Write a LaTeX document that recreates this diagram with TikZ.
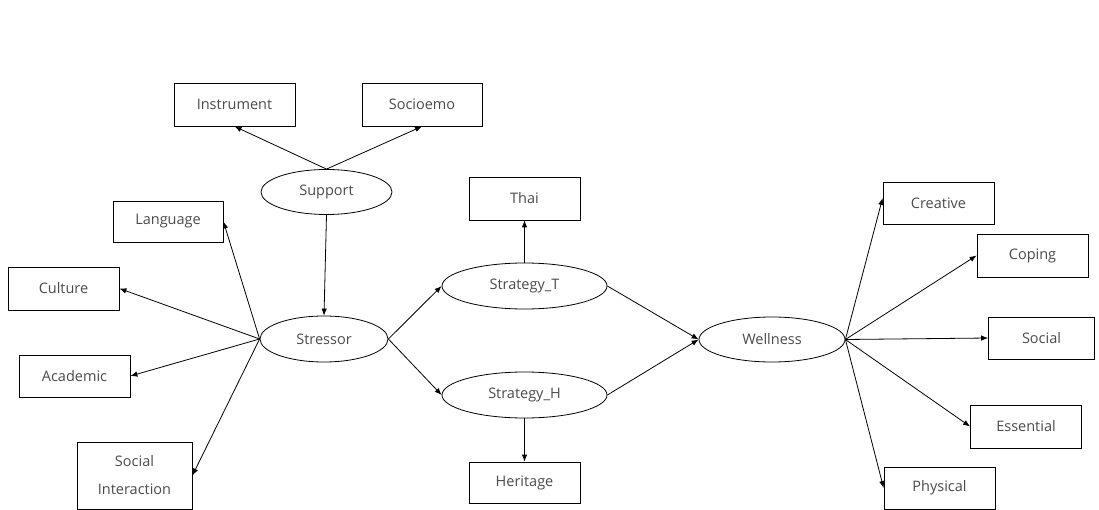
\documentclass[tikz,border=0pt]{standalone}
\usepackage{fontspec}
\setmainfont{Open Sans}
\usetikzlibrary{arrows.meta,shapes.geometric}
\definecolor{labelgray}{HTML}{4A4A4A}
\begin{document}
\begin{tikzpicture}[x=1pt,y=-1pt,
  font=\fontsize{14.5}{19}\selectfont,
  every node/.style={text=labelgray},
  obs/.style={draw=black, line width=0.8pt, rectangle, minimum width=111pt, minimum height=42pt, inner sep=0pt, align=center},
  lat/.style={draw=black, line width=0.8pt, ellipse, inner sep=0pt},
  link/.style={line width=0.8pt, -{Latex[length=7pt,width=5.5pt]}}
]
\useasboundingbox (0,0) rectangle (1099,510);

% latent constructs
\node[lat, minimum width=131pt, minimum height=45pt] (support) at (326.5,192) {Support};
\node[lat, minimum width=128pt, minimum height=46pt] (stressor) at (324,339) {Stressor};
\node[lat, minimum width=165pt, minimum height=46pt] (stratT) at (524.5,286) {Strategy\_T};
\node[lat, minimum width=165pt, minimum height=46pt] (stratH) at (524.5,395) {Strategy\_H};
\node[lat, minimum width=146pt, minimum height=45pt] (wellness) at (772,339.5) {Wellness};

% indicators of Support
\node[obs, minimum width=121pt, minimum height=43pt] (instrument) at (234.5,104.5) {Instrument};
\node[obs, minimum width=120pt, minimum height=43pt] (socioemo) at (422,104.5) {Socioemo};

% indicators of Stressor
\node[obs, minimum width=110pt, minimum height=41pt] (language) at (168,221.5) {Language};
\node[obs, minimum height=43pt] (culture) at (63.5,288.5) {Culture};
\node[obs] (academic) at (74.5,376) {Academic};
\node[obs, minimum width=115pt, minimum height=67pt] (socialint) at (134.5,475.5) {Social\\[9pt]Interaction};

% indicators of the strategies
\node[obs, minimum height=43pt] (thai) at (524.5,198.5) {Thai};
\node[obs, minimum height=41pt] (heritage) at (524.5,482.5) {Heritage};

% indicators of Wellness
\node[obs] (creative) at (938.5,203) {Creative};
\node[obs, minimum height=43pt] (coping) at (1032.5,255.5) {Coping};
\node[obs, minimum width=106pt] (social) at (1041.5,338) {Social};
\node[obs, minimum height=43pt] (essential) at (1026,426.5) {Essential};
\node[obs] (physical) at (939.5,488) {Physical};

% paths
\draw[link] (support.north) -- (instrument.south);
\draw[link] (support.north) -- (socioemo.south);
\draw[link] (support.south) -- (stressor.north);

\draw[link] (stressor.west) -- (language.east);
\draw[link] (stressor.west) -- (culture.east);
\draw[link] (stressor.west) -- (academic.east);
\draw[link] (stressor.west) -- (socialint.east);

\draw[link] (stressor.east) -- (stratT.west);
\draw[link] (stressor.east) -- (stratH.west);
\draw[link] (stratT.north) -- (thai.south);
\draw[link] (stratH.south) -- (heritage.north);
\draw[link] (stratT.east) -- (wellness.west);
\draw[link] (stratH.east) -- (wellness.west);

\draw[link] (wellness.east) -- ([yshift=5pt]creative.west);
\draw[link] (wellness.east) -- (coping.west);
\draw[link] (wellness.east) -- (social.west);
\draw[link] (wellness.east) -- (essential.west);
\draw[link] (wellness.east) -- (physical.west);
\end{tikzpicture}
\end{document}
